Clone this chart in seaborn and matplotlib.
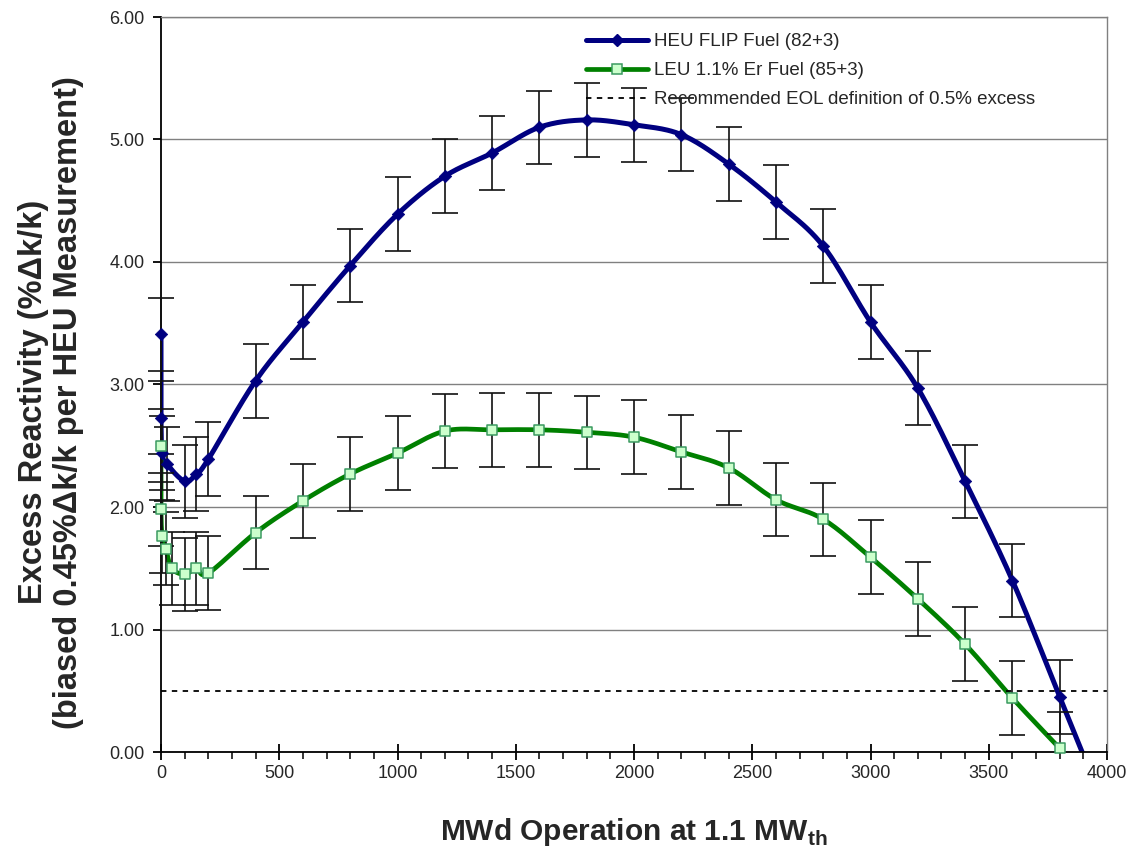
import numpy as np
import pandas as pd
import matplotlib
matplotlib.use("Agg")
import matplotlib.pyplot as plt
import seaborn as sns
from matplotlib.lines import Line2D
from matplotlib.patches import Rectangle
from matplotlib.ticker import MultipleLocator, FormatStrFormatter

# ---------------- data ----------------
heu_mwd = [0, 0, 5, 25, 100, 150, 200, 400, 600, 800, 1000, 1200, 1400, 1600,
           1800, 2000, 2200, 2400, 2600, 2800, 3000, 3200, 3400, 3600, 3800, 4000]
heu_rho = [3.41, 2.73, 2.44, 2.35, 2.21, 2.27, 2.39, 3.03, 3.51, 3.97, 4.39, 4.70,
           4.89, 5.10, 5.16, 5.12, 5.04, 4.80, 4.49, 4.13, 3.51, 2.97, 2.21, 1.40,
           0.45, -0.50]
leu_mwd = [0, 0, 5, 20, 45, 100, 150, 200, 400, 600, 800, 1000, 1200, 1400, 1600,
           1800, 2000, 2200, 2400, 2600, 2800, 3000, 3200, 3400, 3600, 3800]
leu_rho = [2.50, 1.98, 1.76, 1.66, 1.50, 1.45, 1.50, 1.46, 1.79, 2.05, 2.27, 2.44,
           2.62, 2.63, 2.63, 2.61, 2.57, 2.45, 2.32, 2.06, 1.90, 1.59, 1.25, 0.88,
           0.44, 0.03]
err_rho = 0.3
eol_level = 0.5
eol_span = [0, 4000]

series_labels = ["HEU FLIP Fuel (82+3)", "LEU 1.1% Er Fuel (85+3)",
                 "Recommended EOL definition of 0.5% excess"]
x_label = r"MWd Operation at 1.1 MW$_{\mathbf{th}}$"
y_label = "Excess Reactivity (%Δk/k)\n(biased 0.45%Δk/k per HEU Measurement)"

XMIN, XMAX, YMIN, YMAX = 0, 4000, 0, 6

# ---------------- style ----------------
sns.set_theme(style="white")
plt.rcParams["font.family"] = ["Liberation Sans", "DejaVu Sans"]
plt.rcParams["mathtext.fontset"] = "custom"
plt.rcParams["mathtext.rm"] = "Liberation Sans"
plt.rcParams["mathtext.bf"] = "Liberation Sans:bold"

fig = plt.figure(figsize=(11.29, 8.47), dpi=100)
ax = fig.add_axes([161 / 1129, 1 - 752 / 847, 946 / 1129, 735 / 847])

# pixel scale of the axes, used to smooth the line in screen space
sx = 946 / (XMAX - XMIN)
sy = 735 / (YMAX - YMIN)


def smooth(xs, ys, n=24):
    """Excel-like smoothed line (Catmull-Rom Bezier) through the data points."""
    P = np.column_stack([np.asarray(xs, float) * sx, np.asarray(ys, float) * sy])
    out = [P[0]]
    m = len(P)
    t = np.linspace(0, 1, n + 1)[1:, None]
    for i in range(m - 1):
        p0 = P[i - 1] if i > 0 else P[i]
        p1, p2 = P[i], P[i + 1]
        p3 = P[i + 2] if i + 2 < m else P[i + 1]
        c1 = p1 + (p2 - p0) / 6.0
        c2 = p2 - (p3 - p1) / 6.0
        seg = ((1 - t) ** 3) * p1 + 3 * ((1 - t) ** 2) * t * c1 + 3 * (1 - t) * t ** 2 * c2 + t ** 3 * p2
        out.extend(seg)
    out = np.array(out)
    return out[:, 0] / sx, out[:, 1] / sy


heu_col = "#000080"
leu_col = "#008000"
leu_face = "#ccffcc"
leu_edge = "#3a9a60"

hx, hy = smooth(heu_mwd, heu_rho)
lx, ly = smooth(leu_mwd, leu_rho)
heu_curve = pd.DataFrame({"x": hx, "y": hy})
leu_curve = pd.DataFrame({"x": lx, "y": ly})

sns.lineplot(data=heu_curve, x="x", y="y", sort=False, estimator=None, ax=ax,
             color=heu_col, lw=3.6, zorder=2, legend=False)
sns.lineplot(data=leu_curve, x="x", y="y", sort=False, estimator=None, ax=ax,
             color=leu_col, lw=3.4, zorder=2, legend=False)

# EOL dashed line
ax.plot(eol_span, [eol_level, eol_level], color="black", lw=1.3,
        dashes=(3, 3), zorder=2)

# clip regions: allow marks at x=0 to show fully, but clip at the x axis
bar_clip = Rectangle((-0.03, 0.0), 1.06, 1.02, transform=ax.transAxes,
                     facecolor="none", edgecolor="none")
mark_clip = Rectangle((-0.03, -0.013), 1.06, 1.03, transform=ax.transAxes,
                      facecolor="none", edgecolor="none")

# error bars
for xs, ys in [(heu_mwd, heu_rho), (leu_mwd, leu_rho)]:
    cont = ax.errorbar(xs, ys, yerr=err_rho, fmt="none", ecolor="#111111",
                       elinewidth=1.2, capsize=9.5, capthick=1.2, zorder=3)
    for art in list(cont[1]) + list(cont[2]):
        art.set_clip_path(bar_clip)

# markers
sns.scatterplot(x=heu_mwd, y=heu_rho, ax=ax, marker="D", s=40, color=heu_col,
                edgecolor=heu_col, linewidth=0.5, zorder=4, legend=False)
ax.collections[-1].set_clip_path(mark_clip)
sns.scatterplot(x=leu_mwd, y=leu_rho, ax=ax, marker="s", s=48, color=leu_face,
                edgecolor=leu_edge, linewidth=1.1, zorder=4, legend=False)
ax.collections[-1].set_clip_path(mark_clip)

# ---------------- axes ----------------
ax.set_xlim(XMIN, XMAX)
ax.set_ylim(YMIN, YMAX)
ax.xaxis.set_major_locator(MultipleLocator(500))
ax.xaxis.set_minor_locator(MultipleLocator(100))
ax.yaxis.set_major_locator(MultipleLocator(1))
ax.yaxis.set_major_formatter(FormatStrFormatter("%.2f"))

ax.yaxis.grid(True, color="#808080", lw=1.0, zorder=0)
ax.xaxis.grid(False)
ax.set_axisbelow(True)

for side in ["left", "bottom"]:
    ax.spines[side].set_color("black")
    ax.spines[side].set_linewidth(1.3)
for side in ["right", "top"]:
    ax.spines[side].set_color("#808080")
    ax.spines[side].set_linewidth(1.0)

ax.tick_params(axis="x", which="major", direction="inout", length=12, width=1.3,
               color="black", labelsize=13, pad=3, bottom=True)
ax.tick_params(axis="x", which="minor", direction="out", length=5, width=1.1,
               color="black", bottom=True)
ax.tick_params(axis="y", which="major", direction="out", length=6, width=1.3,
               color="black", labelsize=13, pad=6, left=True)

ax.set_xlabel(x_label, fontsize=21.5, fontweight="bold", labelpad=25)
ax.set_ylabel(y_label, fontsize=23.5, fontweight="bold", linespacing=1.2)
ax.yaxis.set_label_coords(-0.081, 0.476)

# ---------------- legend ----------------
handles = [
    Line2D([], [], color=heu_col, lw=3.6, marker="D", ms=6, mfc=heu_col, mec=heu_col),
    Line2D([], [], color=leu_col, lw=3.4, marker="s", ms=6.5, mfc=leu_face,
           mec=leu_edge, mew=1.1),
    Line2D([], [], color="black", lw=1.3, dashes=(3, 3)),
]
fig.legend(handles, series_labels, loc="upper left",
           bbox_to_anchor=(586 / 1129, 1 - 33 / 847), frameon=False,
           fontsize=13.5, handlelength=3.3, handletextpad=0.3,
           labelspacing=0.64, borderpad=0, borderaxespad=0)

fig.savefig("out.png", dpi=100)
